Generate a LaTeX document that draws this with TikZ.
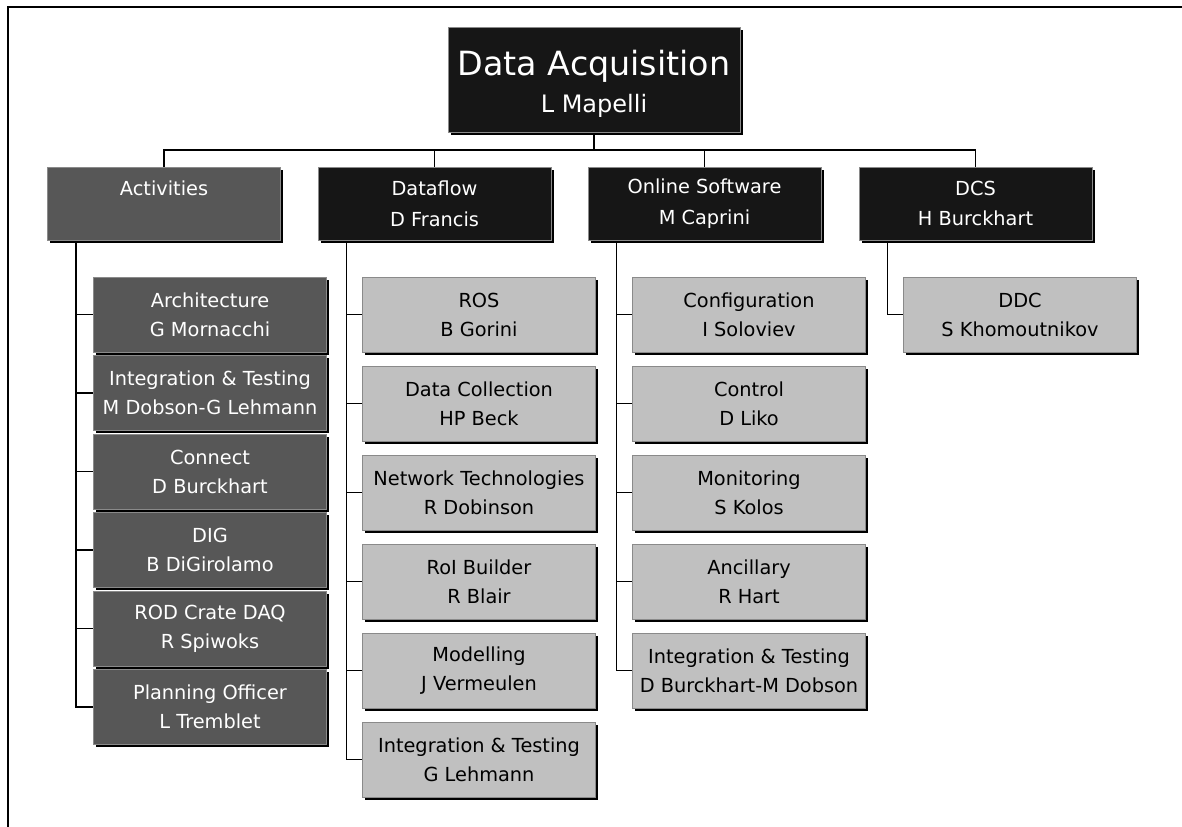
\documentclass[tikz,border=0pt]{standalone}
\usepackage{fontspec}
\setmainfont{DejaVu Sans}
\usetikzlibrary{shadows,backgrounds}
\definecolor{boxblack}{HTML}{161616}
\definecolor{boxdark}{HTML}{575757}
\definecolor{boxlight}{HTML}{C0C0C0}
\definecolor{boxedge}{HTML}{8A8A8A}
\begin{document}
\begin{tikzpicture}[x=0.75pt, y=-0.75pt,
    unit/.style={draw=boxedge, line width=0.6pt, align=center, inner sep=0pt,
        drop shadow={shadow xshift=2.2pt, shadow yshift=-2.2pt, fill=black, opacity=1}},
    headbox/.style={unit, fill=boxblack, text=white, minimum width=219pt,
        minimum height=78.75pt, font=\fontsize{25}{28}\selectfont},
    groupbox/.style={unit, text=white, minimum width=174.75pt,
        minimum height=54.75pt, font=\fontsize{14.5}{23}\selectfont},
    taskbox/.style={unit, minimum width=174.75pt, minimum height=56.25pt,
        font=\fontsize{14.5}{21.75}\selectfont},
    link/.style={line width=1pt}]
    \useasboundingbox (0,0) rectangle (1182,827);

    % Frame
    \draw[line width=2pt] (1182,7) -- (8,7) -- (8,827);

    % Top box
    \node[headbox] (daq) at (594,79.5) {\rule{0pt}{25pt}Data Acquisition\\{\fontsize{18}{28}\selectfont L Mapelli}};
    \coordinate (bus) at (594,150);

    % Groups
    \node[groupbox, fill=boxdark] (act) at (164,203.5) {Activities\\~};
    \node[groupbox, fill=boxblack] (df) at (434.5,203.5) {Dataflow\\D Francis};
    \node[groupbox, fill=boxblack] (ol) at (704.5,203.5) {Online Software\\M Caprini};
    \node[groupbox, fill=boxblack] (dcs) at (975.5,203.5) {DCS\\H Burckhart};

    % Activities
    \node[taskbox, fill=boxdark, text=white] (act1) at (210,314.5) {Architecture\\G Mornacchi};
    \node[taskbox, fill=boxdark, text=white] (act2) at (210,393) {Integration \& Testing\\M Dobson-G Lehmann};
    \node[taskbox, fill=boxdark, text=white] (act3) at (210,471.5) {Connect\\D Burckhart};
    \node[taskbox, fill=boxdark, text=white] (act4) at (210,550) {DIG\\B DiGirolamo};
    \node[taskbox, fill=boxdark, text=white] (act5) at (210,628.5) {ROD Crate DAQ\\R Spiwoks};
    \node[taskbox, fill=boxdark, text=white] (act6) at (210,707) {Planning Officer\\L Tremblet};

    % Dataflow
    \node[taskbox, fill=boxlight] (df1) at (479,314.5) {ROS\\B Gorini};
    \node[taskbox, fill=boxlight] (df2) at (479,403.5) {Data Collection\\HP Beck};
    \node[taskbox, fill=boxlight] (df3) at (479,492.5) {Network Technologies\\R Dobinson};
    \node[taskbox, fill=boxlight] (df4) at (479,581.5) {RoI Builder\\R Blair};
    \node[taskbox, fill=boxlight] (df5) at (479,670.5) {Modelling\\J Vermeulen};
    \node[taskbox, fill=boxlight] (df6) at (479,759.5) {Integration \& Testing\\G Lehmann};

    % Online Software
    \node[taskbox, fill=boxlight] (ol1) at (749,314.5) {Configuration\\I Soloviev};
    \node[taskbox, fill=boxlight] (ol2) at (749,403.5) {Control\\D Liko};
    \node[taskbox, fill=boxlight] (ol3) at (749,492.5) {Monitoring\\S Kolos};
    \node[taskbox, fill=boxlight] (ol4) at (749,581.5) {Ancillary\\R Hart};
    \node[taskbox, fill=boxlight] (ol5) at (749,670.5) {Integration \& Testing\\D Burckhart-M Dobson};

    % DCS
    \node[taskbox, fill=boxlight] (dcs1) at (1020,314.5) {DDC\\S Khomoutnikov};

    % Links
    \coordinate (acttrunk) at ([xshift=21.75pt]act.south west);
    \coordinate (dftrunk) at ([xshift=21.75pt]df.south west);
    \coordinate (oltrunk) at ([xshift=21.75pt]ol.south west);
    \coordinate (dcstrunk) at ([xshift=21.75pt]dcs.south west);
    \begin{scope}[on background layer]
        \draw[link] (daq.south) -- (bus);
        \draw[link] (act.north) |- (bus) -| (dcs.north);
        \draw[link] (df.north) -- (df.north |- bus);
        \draw[link] (ol.north) -- (ol.north |- bus);
        \draw[link] (acttrunk) |- (act6.west);
        \draw[link] (dftrunk) |- (df6.west);
        \draw[link] (oltrunk) |- (ol5.west);
        \draw[link] (dcstrunk) |- (dcs1.west);
        \foreach \i in {1,...,5} {
            \draw[link] (act\i.west) -- (act\i.west -| acttrunk);
            \draw[link] (df\i.west) -- (df\i.west -| dftrunk);
        }
        \foreach \i in {1,...,4}
            \draw[link] (ol\i.west) -- (ol\i.west -| oltrunk);
    \end{scope}
\end{tikzpicture}
\end{document}
